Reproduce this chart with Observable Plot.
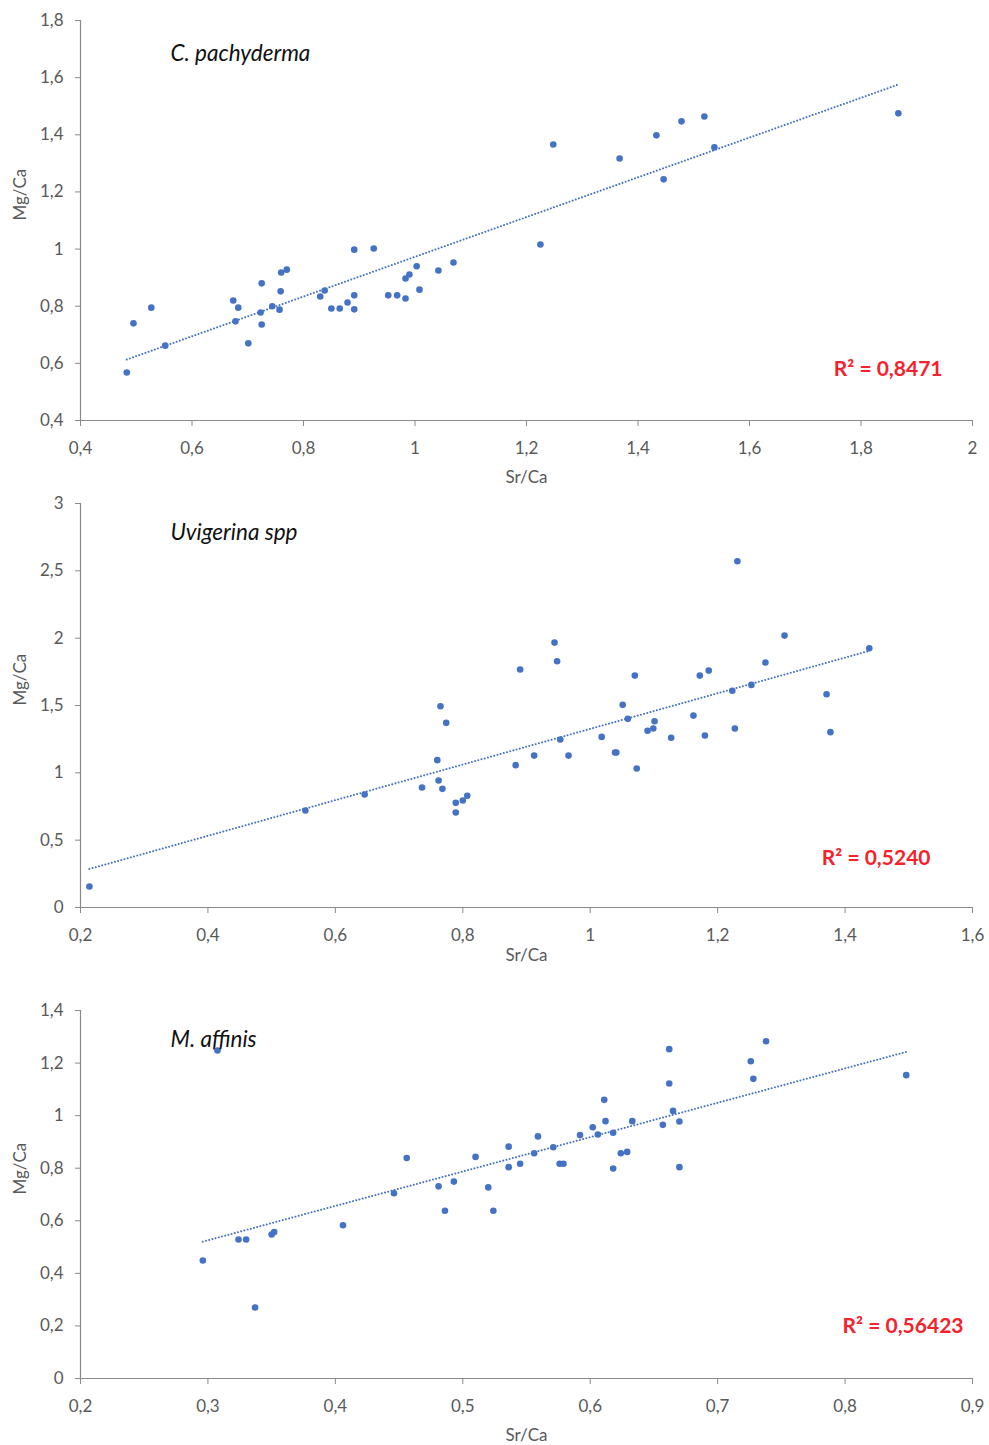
<!DOCTYPE html>
<html>
<head>
<meta charset="utf-8">
<script src="https://cdn.jsdelivr.net/npm/d3@7"></script>
<script src="https://cdn.jsdelivr.net/npm/@observablehq/plot@0.6"></script>
<style>
  html, body { margin: 0; padding: 0; background: #fff; }
  #chart svg { display: block; }
</style>
</head>
<body>
<div id="chart"></div>
<script>
// ---- Panel 1: C. pachyderma ----
const pachyTitle = "C. pachyderma";
const pachyR2 = "R² = 0,8471";
const pachyX = [0.483, 0.495, 0.527, 0.552, 0.674, 0.683, 0.678, 0.701, 0.725, 0.723, 0.725, 0.744, 0.757, 0.759, 0.760, 0.770, 0.830, 0.838, 0.850, 0.865, 0.879, 0.891, 0.891, 0.891, 0.926, 0.952, 0.968, 0.983, 0.983, 0.990, 1.003, 1.008, 1.042, 1.069, 1.225, 1.248, 1.367, 1.433, 1.446, 1.478, 1.519, 1.537, 1.867];
const pachyY = [0.568, 0.740, 0.795, 0.662, 0.820, 0.795, 0.747, 0.670, 0.880, 0.778, 0.736, 0.800, 0.788, 0.852, 0.918, 0.928, 0.834, 0.855, 0.792, 0.792, 0.813, 0.998, 0.838, 0.789, 1.002, 0.838, 0.838, 0.827, 0.897, 0.911, 0.940, 0.858, 0.925, 0.953, 1.016, 1.366, 1.317, 1.398, 1.244, 1.447, 1.464, 1.356, 1.475];
const pachyXTicks = [0.4, 0.6, 0.8, 1, 1.2, 1.4, 1.6, 1.8, 2];
const pachyYTicks = [0.4, 0.6, 0.8, 1, 1.2, 1.4, 1.6, 1.8];

// ---- Panel 2: Uvigerina spp ----
const uviTitle = "Uvigerina spp";
const uviR2 = "R² = 0,5240";
const uviX = [0.214, 0.553, 0.646, 0.944, 0.948, 0.890, 0.765, 0.774, 0.760, 0.762, 0.736, 0.768, 0.789, 0.800, 0.807, 0.789, 0.883, 0.912, 0.953, 0.966, 1.018, 1.039, 1.041, 1.051, 1.059, 1.070, 1.073, 1.090, 1.099, 1.101, 1.127, 1.231, 1.305, 1.275, 1.172, 1.186, 1.162, 1.180, 1.223, 1.253, 1.227, 1.371, 1.377, 1.438];
const uviY = [0.156, 0.720, 0.839, 1.967, 1.829, 1.767, 1.494, 1.371, 1.094, 0.943, 0.891, 0.881, 0.777, 0.794, 0.829, 0.705, 1.057, 1.128, 1.247, 1.128, 1.267, 1.151, 1.151, 1.505, 1.401, 1.722, 1.032, 1.312, 1.329, 1.383, 1.260, 2.571, 2.019, 1.819, 1.722, 1.759, 1.425, 1.277, 1.609, 1.653, 1.329, 1.584, 1.302, 1.925];
const uviXTicks = [0.2, 0.4, 0.6, 0.8, 1, 1.2, 1.4, 1.6];
const uviYTicks = [0, 0.5, 1, 1.5, 2, 2.5, 3];

// ---- Panel 3: M. affinis ----
const affTitle = "M. affinis";
const affR2 = "R² = 0,56423";
const affX = [0.296, 0.324, 0.330, 0.337, 0.350, 0.352, 0.406, 0.456, 0.446, 0.481, 0.486, 0.493, 0.510, 0.520, 0.524, 0.3075, 0.536, 0.536, 0.545, 0.559, 0.556, 0.571, 0.576, 0.579, 0.592, 0.602, 0.606, 0.611, 0.612, 0.618, 0.618, 0.624, 0.629, 0.633, 0.657, 0.662, 0.662, 0.665, 0.670, 0.670, 0.726, 0.728, 0.738, 0.848];
const affY = [0.449, 0.529, 0.529, 0.270, 0.548, 0.557, 0.583, 0.839, 0.705, 0.731, 0.638, 0.749, 0.843, 0.727, 0.638, 1.248, 0.882, 0.804, 0.817, 0.921, 0.857, 0.880, 0.817, 0.817, 0.926, 0.956, 0.928, 1.060, 0.979, 0.935, 0.799, 0.857, 0.862, 0.979, 0.965, 1.122, 1.253, 1.018, 0.978, 0.804, 1.207, 1.140, 1.283, 1.154];
const affXTicks = [0.2, 0.3, 0.4, 0.5, 0.6, 0.7, 0.8, 0.9];
const affYTicks = [0, 0.2, 0.4, 0.6, 0.8, 1, 1.2, 1.4];

const xLabel = "Sr/Ca";
const yLabel = "Mg/Ca";

const fmt = d => String(+d.toFixed(2)).replace(".", ",");
const blue = "#4472C4";
const axisGray = "#8a8a8a";
const textGray = "#595959";

function panel(cfg) {
  const data = cfg.xs.map((x, i) => ({x, y: cfg.ys[i]}));
  const xd = [cfg.xTicks[0], cfg.xTicks[cfg.xTicks.length - 1]];
  const yd = [cfg.yTicks[0], cfg.yTicks[cfg.yTicks.length - 1]];
  const svg = Plot.plot({
    width: 989,
    height: cfg.height,
    marginLeft: 80,
    marginRight: 17,
    marginTop: cfg.marginTop,
    marginBottom: cfg.marginBottom,
    style: {fontFamily: "Lato, 'Open Sans', sans-serif", fontSize: "17px", color: textGray, background: "#fff"},
    x: {domain: xd},
    y: {domain: yd},
    marks: [
      Plot.ruleY([yd[0]], {stroke: axisGray, strokeWidth: 1.2}),
      Plot.ruleX([xd[0]], {stroke: axisGray, strokeWidth: 1.2}),
      Plot.axisX({ticks: cfg.xTicks, tickFormat: fmt, tickSize: 6, tickPadding: 15, stroke: axisGray, label: null}),
      Plot.axisY({ticks: cfg.yTicks, tickFormat: fmt, tickSize: 5, tickPadding: 12, stroke: axisGray, label: null}),
      Plot.linearRegressionY(data, {x: "x", y: "y", ci: 0, stroke: blue, strokeWidth: 2, strokeLinecap: "round", strokeDasharray: "0.01,3.3"}),
      Plot.dot(data, {x: "x", y: "y", r: 3.3, fill: blue, stroke: "none"}),
      Plot.text([cfg.title], {frameAnchor: "top-left", textAnchor: "start", dx: 90, dy: cfg.titleDy, fontStyle: "italic", fontSize: 22.5, fill: "#111"}),
      Plot.text([cfg.r2], {frameAnchor: "bottom-right", textAnchor: "end", dx: cfg.r2Dx, dy: cfg.r2Dy, fontSize: 21, fontWeight: "bold", fill: "#f5222d"}),
      Plot.text([xLabel], {frameAnchor: "bottom", dy: cfg.xLabelDy, fontSize: 17, fill: textGray}),
      Plot.text([yLabel], {frameAnchor: "left", dx: -60, rotate: -90, fontSize: 17, fill: textGray})
    ]
  });
  d3.select(svg).selectAll('g[aria-label="linear-regression"], g[aria-label="linear-regression"] path')
    .style("stroke-dasharray", "0.01,3.3")
    .style("stroke-linecap", "round");
  return svg;
}

const chart = document.getElementById("chart");
chart.append(panel({xs: pachyX, ys: pachyY, xTicks: pachyXTicks, yTicks: pachyYTicks, title: pachyTitle, r2: pachyR2,
  height: 490, marginTop: 20, marginBottom: 70, titleDy: 25, r2Dx: -30, r2Dy: -45, xLabelDy: 62}));
chart.append(panel({xs: uviX, ys: uviY, xTicks: uviXTicks, yTicks: uviYTicks, title: uviTitle, r2: uviR2,
  height: 477, marginTop: 13, marginBottom: 60, titleDy: 21, r2Dx: -42, r2Dy: -43, xLabelDy: 53}));
chart.append(panel({xs: affX, ys: affY, xTicks: affXTicks, yTicks: affYTicks, title: affTitle, r2: affR2,
  height: 478, marginTop: 43, marginBottom: 67, titleDy: 21, r2Dx: -9, r2Dy: -46, xLabelDy: 62}));
</script>
</body>
</html>
